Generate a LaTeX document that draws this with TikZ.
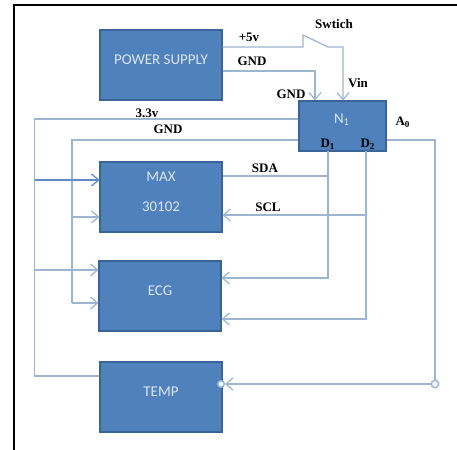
\documentclass[tikz,border=0pt]{standalone}
\usepackage{fontspec}
\setmainfont{Liberation Serif}
\newfontfamily\boxfont{Carlito}
\usetikzlibrary{arrows.meta,positioning,calc}
\definecolor{boxblue}{HTML}{4F81BD}
\definecolor{boxedge}{HTML}{3A6496}
\definecolor{wire}{HTML}{9DB5CF}
\begin{document}
\begin{tikzpicture}[
        x=0.2mm, y=-0.2mm,
        >={Straight Barb[length=1.4mm,width=2.4mm]},
        block/.style={draw=boxedge, fill=boxblue, rectangle, semithick, text=white!80!boxblue, font=\boxfont\fontsize{8.5}{10}\selectfont, minimum width=24.4mm, minimum height=14mm, inner sep=0pt, text depth=2mm},
        blocktext/.style={text=white!80!boxblue, font=\boxfont\fontsize{8.5}{10}\selectfont, inner sep=0pt},
        tag/.style={font=\bfseries\fontsize{7.4}{8}\selectfont, inner sep=0pt},
        wireline/.style={draw=wire, line width=0.7pt},
        wirearrow/.style={->, draw=wire, line width=0.7pt},
        dot/.style={circle, draw=wire, fill=white!85!wire, line width=0.8pt, minimum size=1.5mm, inner sep=0pt}
    ]
    \useasboundingbox (0,0) rectangle (457,450);

    % Frame
    \draw[line width=0.45mm] (14,450) -- (14,5) -- (457,5);

    % Blocks
    \node[block] (power) at (161,65) {POWER SUPPLY};
    \node[block, minimum width=17.4mm, minimum height=10mm, text depth=0pt] (nano) at (342.5,126) {};
    \node[block] (max) at (161,197) {};
    \node[block] (ecg) at (160,296) {ECG};
    \node[block] (temp) at (161,397) {TEMP};
    \node[blocktext] (nanoname) at (342,120) {N\textsubscript{1}};
    \node[blocktext] (maxname) at (161,177) {MAX};
    \node[blocktext] (maxnum) at (161,207) {30102};

    % Junctions
    \coordinate (swa) at (303,47);
    \coordinate (swb) at (303,35);
    \coordinate (swc) at (328,47);
    \coordinate (swd) at (343,47);
    \coordinate (gnda) at (315,71);
    \coordinate (vbus) at (34.5,119);
    \coordinate (gbus) at (72,140);
    \coordinate (vmax) at (34.5,180);
    \coordinate (gmax) at (72,217);
    \coordinate (vecg) at (34.5,270);
    \coordinate (gecg) at (72,303);
    \coordinate (vtemp) at (34.5,376);
    \coordinate (d1) at (328,151);
    \coordinate (d2) at (366,151);
    \coordinate (sda) at (328,176);
    \coordinate (scl) at (366,215);
    \coordinate (d1ecg) at (328,278);
    \coordinate (d2ecg) at (366,319);
    \coordinate (aout) at (435,140);
    \node[dot] (aend) at (435,384) {};
    \node[dot, minimum size=1.3mm] (tempdot) at (221,384) {};

    % Power lines
    \draw[wirearrow] (power.east |- swa) -- (swa) -- (swb) -- (swc) -- (swd) -- (nano.north -| swd);
    \draw[wirearrow] (power.east |- gnda) -- (gnda) -- (nano.north -| gnda);

    % Supply rails on the left
    \draw[wireline] (nano.west |- vbus) -- (vbus) -- (vtemp) -- (temp.west |- vtemp);
    \draw[wireline] (nano.west |- gbus) -- (gbus) -- (gecg);
    \draw[wirearrow, draw=boxblue!80!wire] (vmax) -- (max.west |- vmax);
    \draw[wirearrow] (gmax) -- (max.west |- gmax);
    \draw[wirearrow] (vecg) -- (ecg.west |- vecg);
    \draw[wirearrow] (gecg) -- (ecg.west |- gecg);

    % Data lines
    \draw[wireline] (sda) -- (max.east |- sda);
    \draw[wirearrow] (d1) -- (d1ecg) -- (ecg.east |- d1ecg);
    \draw[wirearrow] (scl) -- (max.east |- scl);
    \draw[wirearrow] (d2) -- (d2ecg) -- (ecg.east |- d2ecg);

    % Analog line
    \draw[wireline] (nano.east |- aout) -- (aout) -- (aend);
    \draw[wirearrow] (aend) -- (tempdot);

    % Labels
    \node[tag] (lswitch) at (334,24) {Swtich};
    \node[tag] (lfive) at (249,37) {+5v};
    \node[tag] (lgnda) at (252,61) {GND};
    \node[tag] (lvin) at (358,83) {Vin};
    \node[tag] (lgndb) at (291,94) {GND};
    \node[tag] (lazero) at (403,122) {A\textsubscript{0}};
    \node[tag] (ldone) at (328,144) {D\textsubscript{1}};
    \node[tag] (ldtwo) at (368,144) {D\textsubscript{2}};
    \node[tag] (lthree) at (147,113) {3.3v};
    \node[tag] (lgndc) at (168,129) {GND};
    \node[tag] (lsda) at (265,168) {SDA};
    \node[tag] (lscl) at (268,207) {SCL};
\end{tikzpicture}
\end{document}
